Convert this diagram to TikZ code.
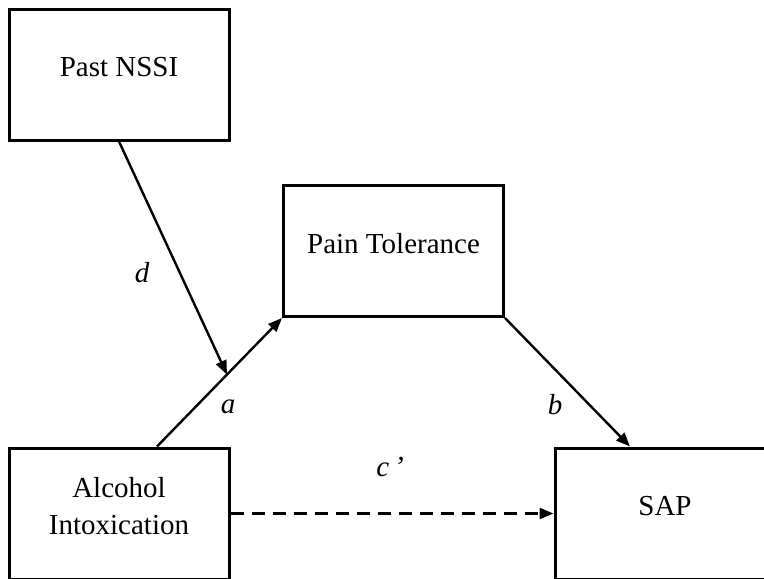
\documentclass[tikz,border=0pt]{standalone}
\usepackage{fontspec}
\setmainfont{Liberation Serif}
\usetikzlibrary{arrows.meta,calc}
\begin{document}
\begin{tikzpicture}[x=0.5pt, y=-0.5pt,
		box/.style={draw, line width=1.5pt, minimum width=110pt, minimum height=65.5pt, align=center, text depth=8pt, font=\fontsize{14.5}{18.5}\selectfont},
		path/.style={line width=1.2pt, -{Triangle[length=7pt, width=5.5pt]}},
		coef/.style={font=\fontsize{14.5}{17}\selectfont\itshape}]
		\clip (0,0) rectangle (764,578);
		\node[box] (NSSI) at (119,74.5) {Past NSSI};
		\node[box] (Pain) at (393.5,251) {Pain Tolerance};
		\node[box] (Alcohol) at (119,513.5) {Alcohol\\Intoxication};
		\node[box] (SAP) at (665,513.5) {SAP};
		% Arrows
		\coordinate (aStart) at ([xshift=19pt]Alcohol.north);
		\coordinate (aMid) at ($(aStart)!0.56!(Pain.south west)$);
		\draw[path] (aStart) -- (Pain.south west);
		\draw[path] (Pain.south east) -- ([xshift=-17.5pt]SAP.north);
		\draw[path] (NSSI.south) -- (aMid);
		\draw[path, dash pattern=on 6.5pt off 4pt] (Alcohol.east) -- (SAP.west);
		% Coefficients
		\node[coef] (d) at (142,273) {d};
		\node[coef] (a) at (228,407) {a};
		\node[coef] (b) at (555,405) {b};
		\node[coef] (c) at (390,467) {c\,’};
	\end{tikzpicture}
\end{document}
